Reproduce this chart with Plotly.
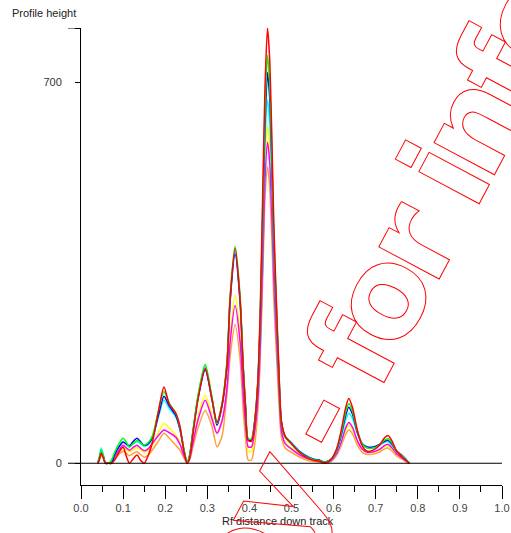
import plotly.graph_objects as go

rf = [0.040, 0.044, 0.048, 0.053, 0.058, 0.065, 0.072, 0.080, 0.090, 0.100,
      0.108, 0.115, 0.124, 0.133, 0.141, 0.150, 0.160, 0.170, 0.185, 0.197,
      0.210, 0.225, 0.235, 0.245, 0.252, 0.258, 0.266, 0.278, 0.295, 0.311,
      0.323, 0.335, 0.347, 0.354, 0.366, 0.378, 0.385, 0.391, 0.397, 0.405,
      0.412, 0.420, 0.426, 0.432, 0.437, 0.443, 0.448, 0.453, 0.458, 0.464,
      0.470, 0.476, 0.485, 0.500, 0.520, 0.540, 0.555, 0.565, 0.580, 0.595,
      0.607, 0.618, 0.628, 0.636, 0.645, 0.656, 0.668, 0.680, 0.694, 0.708,
      0.720, 0.729, 0.738, 0.750, 0.762, 0.772, 0.780]

orange = [0, 7, 15, 9, 0, 0, 0, 8, 16, 22,
          18, 14, 18, 21, 16, 11, 15, 25, 42, 55,
          46, 33, 24, 9, 0, 6, 30, 65, 97, 68,
          30, 50, 130, 195, 255, 190, 100, 45, 6, 6,
          32, 95, 200, 350, 485, 545, 510, 420, 300, 205,
          115, 48, 28, 20, 11, 5, 3, 2, 0, 4,
          14, 32, 52, 61, 54, 34, 20, 16, 17, 20,
          26, 28, 23, 13, 8, 3, 0]

yellow = [0, 9, 19, 11, 0, 0, 0, 10, 20, 28,
          24, 21, 25, 29, 25, 20, 24, 33, 58, 73,
          64, 52, 38, 14, 1, 9, 40, 85, 125, 88,
          55, 80, 145, 230, 309, 235, 140, 75, 22, 22,
          50, 115, 230, 400, 550, 620, 585, 490, 355, 245,
          140, 62, 38, 28, 16, 8, 5, 4, 1, 5,
          16, 36, 60, 70, 62, 40, 25, 20, 20, 24,
          30, 32, 27, 16, 10, 4, 0]

magenta = [0, 10, 20, 12, 0, 0, 0, 12, 24, 33,
           28, 24, 29, 33, 28, 23, 27, 37, 52, 61,
           56, 48, 35, 13, 1, 8, 38, 80, 116, 82,
           55, 78, 140, 220, 290, 222, 132, 70, 30, 30,
           55, 115, 220, 380, 520, 590, 555, 465, 340, 235,
           135, 60, 36, 26, 15, 8, 5, 4, 1, 5,
           17, 38, 64, 75, 66, 42, 26, 20, 21, 25,
           32, 35, 29, 17, 10, 4, 0]

cyan = [0, 14, 28, 16, 0, 0, 0, 16, 30, 39,
        34, 30, 36, 40, 36, 31, 34, 46, 88, 116,
        100, 85, 62, 22, 2, 15, 60, 124, 180, 122,
        76, 108, 186, 298, 390, 298, 180, 102, 44, 44,
        72, 145, 265, 440, 590, 667, 630, 530, 390, 270,
        160, 75, 50, 38, 22, 12, 7, 6, 2, 7,
        22, 48, 78, 92, 82, 55, 35, 28, 28, 32,
        38, 40, 34, 21, 14, 6, 0]

blue = [0, 10, 22, 13, 0, 0, 0, 16, 30, 39,
        35, 32, 40, 46, 40, 33, 36, 48, 92, 123,
        105, 88, 63, 22, 2, 14, 58, 120, 172, 118,
        70, 105, 183, 295, 385, 295, 178, 100, 43, 43,
        72, 145, 270, 460, 620, 718, 675, 560, 405, 280,
        165, 75, 48, 36, 21, 11, 7, 6, 2, 8,
        24, 52, 86, 103, 90, 58, 36, 30, 30, 34,
        40, 42, 36, 22, 15, 7, 0]

green = [0, 12, 24, 14, 0, 0, 5, 20, 36, 46,
         38, 30, 36, 42, 38, 33, 38, 51, 100, 132,
         110, 92, 66, 24, 2, 15, 60, 125, 182, 121,
         73, 110, 190, 305, 399, 305, 183, 105, 45, 45,
         75, 150, 280, 480, 650, 750, 700, 580, 420, 290,
         170, 75, 48, 35, 20, 10, 6, 5, 2, 8,
         25, 55, 92, 110, 95, 60, 35, 28, 28, 33,
         42, 45, 38, 22, 14, 6, 0]

red = [0, 8, 18, 10, 0, 0, 0, 6, 20, 30,
       12, 0, 8, 15, 6, 0, 15, 40, 100, 140,
       108, 92, 68, 20, 0, 10, 55, 118, 175, 118,
       75, 108, 185, 300, 395, 300, 180, 100, 42, 40,
       72, 150, 290, 510, 690, 800, 745, 610, 440, 300,
       175, 78, 50, 36, 19, 9, 5, 4, 1, 8,
       26, 60, 100, 119, 102, 62, 32, 22, 24, 32,
       46, 51, 42, 22, 12, 5, 0]

series = [
    ("orange", orange, "#ff9f3f"),
    ("yellow", yellow, "#ffff00"),
    ("magenta", magenta, "#ff00ff"),
    ("cyan", cyan, "#00ffff"),
    ("blue", blue, "#0000ff"),
    ("green", green, "#00ff00"),
    ("red", red, "#ff0000"),
]

x_ticks = [0.0, 0.1, 0.2, 0.3, 0.4, 0.5, 0.6, 0.7, 0.8, 0.9, 1.0]
x_labels = ["0.0", "0.1", "0.2", "0.3", "0.4", "0.5", "0.6", "0.7", "0.8", "0.9", "1.0"]
x_minor = [0.05, 0.15, 0.25, 0.35, 0.45, 0.55, 0.65, 0.75, 0.85, 0.95]
y_ticks = [0, 700, 800]
y_labels = ["0", "700", ""]

fig = go.Figure()
for name, vals, col in series:
    fig.add_trace(go.Scatter(x=rf, y=vals, mode="lines", name=name,
                             line=dict(color=col, width=1.5, shape="spline", smoothing=0.7),
                             showlegend=False, hoverinfo="skip"))

W, H = 511, 533
ml, mr, mt, mb = 81, 9, 28, 48
pw = W - ml - mr
ph = H - mt - mb

fig.update_layout(
    width=W, height=H,
    margin=dict(l=ml, r=mr, t=mt, b=mb, pad=0, autoexpand=False),
    paper_bgcolor="white", plot_bgcolor="white", showlegend=False,
    font=dict(family="Liberation Sans, Arial, sans-serif", size=11, color="#333333"),
    xaxis=dict(range=[0, 1], tickvals=x_ticks, ticktext=x_labels, ticks="outside",
               ticklen=13, tickcolor="black", showline=True, linecolor="black", linewidth=1,
               showgrid=False, zeroline=False, automargin=False,
               tickfont=dict(size=11, color="#444"),
               minor=dict(tickvals=x_minor, ticklen=6, tickcolor="black", ticks="outside")),
    yaxis=dict(range=[-40, 800], tickvals=y_ticks, ticktext=y_labels, ticks="outside",
               ticklen=5, tickcolor="black", showline=True, linecolor="black", linewidth=1,
               showgrid=False, zeroline=False, automargin=False, ticklabelstandoff=11,
               tickfont=dict(size=11, color="#333")),
    shapes=[
        dict(type="line", xref="paper", yref="y", x0=-13 / pw, x1=1, y0=0, y1=0,
             line=dict(color="black", width=1.2)),
        dict(type="line", xref="paper", yref="y", x0=-13 / pw, x1=0, y0=800, y1=800,
             line=dict(color="black", width=1)),
    ],
    annotations=[
        dict(text="Profile height", xref="paper", yref="paper", x=-71 / pw, y=1.0,
             yshift=15, xanchor="left", yanchor="middle", showarrow=False,
             font=dict(size=11, color="#222")),
        dict(text="Rf distance down track", xref="paper", yref="paper",
             x=(278 - ml) / pw, y=0, yshift=-36, xanchor="center", yanchor="middle",
             showarrow=False, font=dict(size=11, color="#222")),
        dict(text="copy - for information", xref="paper", yref="paper",
             x=(461 - ml) / pw, y=(485 - 144) / ph, xanchor="center", yanchor="middle",
             showarrow=False, textangle=-62,
             font=dict(family="DejaVu Sans", size=125, color="rgba(0,0,0,0)",
                       weight="bold")),
    ],
)

post = """
document.body.style.margin = '0';
document.body.style.padding = '0';
document.documentElement.style.overflow = 'hidden';
var gd = document.getElementById('{plot_id}');
function outlineWatermark(){
  document.querySelectorAll('text.annotation-text').forEach(function(t){
    if (t.textContent.indexOf('for information') >= 0) {
      t.style.fill = 'none';
      t.style.stroke = '#ff0000';
      t.style.strokeWidth = '1px';
      t.style.letterSpacing = '-10px';
    }
  });
}
outlineWatermark();
if (gd && gd.on) { gd.on('plotly_afterplot', outlineWatermark); }
"""

fig.write_html("out.html", post_script=post, config={"displayModeBar": False})
